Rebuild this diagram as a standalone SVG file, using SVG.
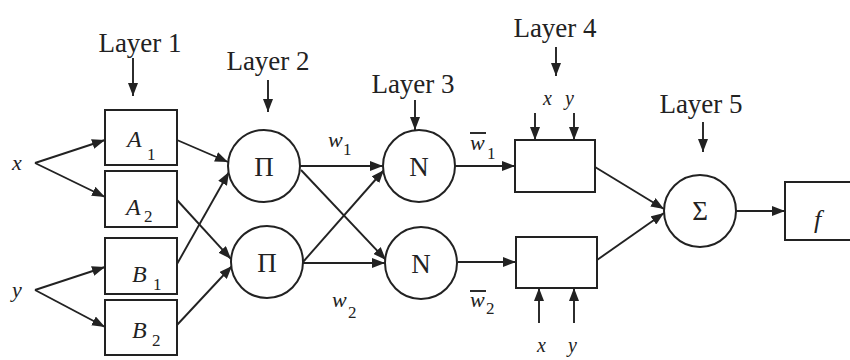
<svg xmlns="http://www.w3.org/2000/svg" width="850" height="360" viewBox="0 0 850 360" font-family="Liberation Serif, serif">
<style>
.ln{stroke:#222;stroke-width:1.9;fill:none}
.bx{fill:#fff;stroke:#222;stroke-width:2}
text{font-family:"Liberation Serif",serif;fill:#222}
.lyr{font-size:27px;text-anchor:middle}
.it{font-style:italic}
.sym{font-size:27px;text-anchor:middle}
.sub{font-size:17px}
</style>
<defs>
<marker id="ah" viewBox="0 0 13 10" refX="13" refY="5" markerWidth="13" markerHeight="10" orient="auto" markerUnits="userSpaceOnUse"><path d="M0,0 L13,5 L0,10 z" fill="#222"/></marker>
</defs>
<rect width="850" height="360" fill="#fff"/>
<g id="connectors">
<line class="ln" x1="35" y1="163" x2="105" y2="140" marker-end="url(#ah)"/>
<line class="ln" x1="35" y1="163" x2="105" y2="197" marker-end="url(#ah)"/>
<line class="ln" x1="35" y1="290" x2="105" y2="267" marker-end="url(#ah)"/>
<line class="ln" x1="35" y1="290" x2="105" y2="327" marker-end="url(#ah)"/>
<line class="ln" x1="177" y1="140" x2="228" y2="162" marker-end="url(#ah)"/>
<line class="ln" x1="177" y1="264" x2="229" y2="172" marker-end="url(#ah)"/>
<line class="ln" x1="177" y1="200" x2="231" y2="259" marker-end="url(#ah)"/>
<line class="ln" x1="177" y1="325" x2="232" y2="266" marker-end="url(#ah)"/>
<line class="ln" x1="300" y1="166" x2="383" y2="166" marker-end="url(#ah)"/>
<line class="ln" x1="301" y1="170" x2="386" y2="260" marker-end="url(#ah)"/>
<line class="ln" x1="303" y1="262" x2="384" y2="170" marker-end="url(#ah)"/>
<line class="ln" x1="303" y1="263" x2="385" y2="263" marker-end="url(#ah)"/>
<line class="ln" x1="455" y1="166" x2="515" y2="166" marker-end="url(#ah)"/>
<line class="ln" x1="458" y1="262" x2="516" y2="262" marker-end="url(#ah)"/>
<line class="ln" x1="595" y1="167" x2="664" y2="209" marker-end="url(#ah)"/>
<line class="ln" x1="597" y1="260" x2="664" y2="213" marker-end="url(#ah)"/>
<line class="ln" x1="736" y1="211" x2="785" y2="211" marker-end="url(#ah)"/>
<line class="ln" x1="133" y1="58" x2="133" y2="96" marker-end="url(#ah)"/>
<line class="ln" x1="268" y1="80" x2="268" y2="112" marker-end="url(#ah)"/>
<line class="ln" x1="415" y1="100" x2="415" y2="130" marker-end="url(#ah)"/>
<line class="ln" x1="556" y1="47" x2="556" y2="76" marker-end="url(#ah)"/>
<line class="ln" x1="703" y1="122" x2="703" y2="152" marker-end="url(#ah)"/>
<line class="ln" x1="535" y1="113" x2="535" y2="140" marker-end="url(#ah)"/>
<line class="ln" x1="574" y1="113" x2="574" y2="140" marker-end="url(#ah)"/>
<line class="ln" x1="539" y1="323" x2="539" y2="288" marker-end="url(#ah)"/>
<line class="ln" x1="574" y1="323" x2="574" y2="288" marker-end="url(#ah)"/>
</g>
<g id="labels">
<text class="lyr" x="140" y="52">Layer 1</text>
<text class="lyr" x="268" y="70">Layer 2</text>
<text class="lyr" x="413" y="93">Layer 3</text>
<text class="lyr" x="555" y="37">Layer 4</text>
<text class="lyr" x="701" y="113">Layer 5</text>
<text class="it" x="12" y="170" font-size="22">x</text>
<text class="it" x="12" y="297" font-size="22">y</text>
<text class="it" x="543" y="105" font-size="20">x</text>
<text class="it" x="565" y="105" font-size="20">y</text>
<text class="it" x="537" y="352" font-size="20">x</text>
<text class="it" x="568" y="352" font-size="20">y</text>
<text class="it" x="328" y="147" font-size="22">w</text><text class="sub" x="343" y="155">1</text>
<text class="it" x="332" y="307" font-size="22">w</text><text class="sub" x="348" y="318">2</text>
<line class="ln" x1="470" y1="133" x2="486" y2="133" stroke-width="1.4"/>
<text class="it" x="470" y="150" font-size="22">w</text><text class="sub" x="487" y="159">1</text>
<line class="ln" x1="470" y1="291" x2="486" y2="291" stroke-width="1.4"/>
<text class="it" x="470" y="307" font-size="22">w</text><text class="sub" x="486" y="314">2</text>
</g>
<g id="A1"><rect class="bx" x="105" y="110" width="72" height="55"/><text class="it" x="127" y="147" font-size="24">A</text><text class="sub" x="147" y="160">1</text></g>
<g id="A2"><rect class="bx" x="105" y="171" width="72" height="56"/><text class="it" x="126" y="215" font-size="24">A</text><text class="sub" x="144" y="222">2</text></g>
<g id="B1"><rect class="bx" x="105" y="238" width="72" height="56"/><text class="it" x="132" y="282" font-size="24">B</text><text class="sub" x="153" y="290">1</text></g>
<g id="B2"><rect class="bx" x="105" y="300" width="72" height="55"/><text class="it" x="132" y="338" font-size="24">B</text><text class="sub" x="152" y="346">2</text></g>
<g id="Pi1"><circle class="bx" cx="264" cy="166" r="36"/><text class="sym" x="264" y="176">Π</text></g>
<g id="Pi2"><circle class="bx" cx="267" cy="262" r="36"/><text class="sym" x="267" y="272">Π</text></g>
<g id="N1"><circle class="bx" cx="419" cy="166" r="36"/><text class="sym" x="419" y="176">N</text></g>
<g id="N2"><circle class="bx" cx="421" cy="263" r="36"/><text class="sym" x="421" y="273">N</text></g>
<g id="L4a"><rect class="bx" x="515" y="140" width="80" height="52"/></g>
<g id="L4b"><rect class="bx" x="516" y="237" width="81" height="51"/></g>
<g id="Sigma"><circle class="bx" cx="700" cy="211" r="36"/><text class="sym" x="700" y="220">Σ</text></g>
<g id="F"><rect class="bx" x="785" y="182" width="80" height="58"/><text class="it" x="814" y="228" font-size="26">f</text></g>
</svg>
